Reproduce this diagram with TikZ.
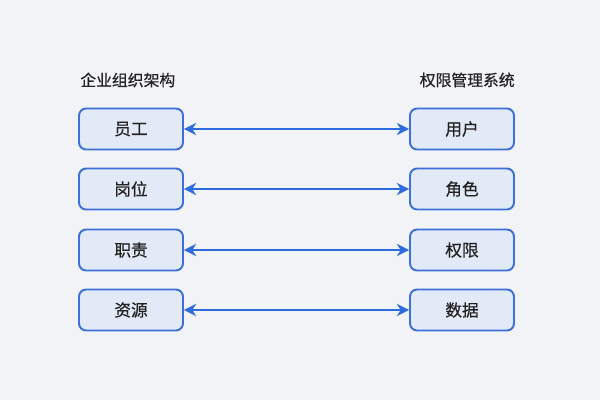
\documentclass[tikz,border=0pt]{standalone}
\usepackage{fontspec}
\newfontfamily\cjk[FakeBold=0.5]{Noto Sans CJK SC}
\usetikzlibrary{arrows.meta}
\definecolor{bg}{HTML}{F1F3F6}
\definecolor{boxfill}{HTML}{E2E9F7}
\definecolor{boxline}{HTML}{3D6FD9}
\definecolor{arr}{HTML}{2E6BE0}
\definecolor{txt}{HTML}{222222}
\tikzset{
  x=0.02cm, y=-0.02cm,
  entity/.style={draw=boxline, fill=boxfill, line width=1.1pt, rounded corners=4pt,
    minimum width=2.08cm, minimum height=0.82cm, inner sep=0pt,
    font=\cjk\fontsize{9.5}{11}\selectfont, text=txt},
  title/.style={font=\cjk\fontsize{9}{11}\selectfont, text=txt, inner sep=0pt},
  link/.style={draw=arr, line width=1.1pt, {Stealth[length=7pt,width=7pt]}-{Stealth[length=7pt,width=7pt]}}
}
\begin{document}
\begin{tikzpicture}
\fill[bg] (0,0) rectangle (600,400);
\useasboundingbox (0,0) rectangle (600,400);
\node[title, anchor=west] (lt) at (80,80) {企业组织架构};
\node[title, anchor=east] (rt) at (515,80) {权限管理系统};
\node[entity] (l1) at (131,129) {员工};
\node[entity] (l2) at (131,189) {岗位};
\node[entity] (l3) at (131,250) {职责};
\node[entity] (l4) at (131,310) {资源};
\node[entity] (r1) at (462,129) {用户};
\node[entity] (r2) at (462,189) {角色};
\node[entity] (r3) at (462,250) {权限};
\node[entity] (r4) at (462,310) {数据};
\draw[link] (l1) -- (r1);
\draw[link] (l2) -- (r2);
\draw[link] (l3) -- (r3);
\draw[link] (l4) -- (r4);
\end{tikzpicture}
\end{document}
